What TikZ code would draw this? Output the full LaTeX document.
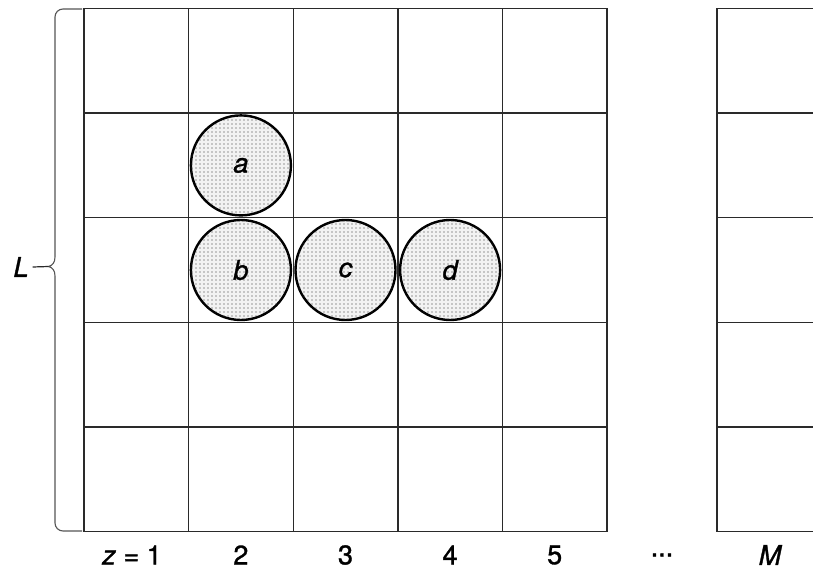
\documentclass[tikz,border=0pt]{standalone}
\usepackage{fontspec}
\setmainfont{TeX Gyre Heros}[FakeBold=1.2,ItalicFeatures={FakeBold=1.2}]
\usetikzlibrary{patterns}
\pgfdeclarepatternformonly{sparsedots}{\pgfqpoint{-1pt}{-1pt}}{\pgfqpoint{1pt}{1pt}}{\pgfqpoint{4pt}{4pt}}{\pgfpathcircle{\pgfqpoint{0pt}{0pt}}{0.6pt}\pgfusepath{fill}}
\definecolor{gridc}{HTML}{2A2A2A}
\tikzset{
  gridline/.style={draw=gridc, line width=1.4pt},
  ball/.style={circle, draw=black, line width=2.4pt, minimum size=100pt, inner sep=0pt,
    fill=gray!10, postaction={pattern=sparsedots, pattern color=black!80},
    font=\fontsize{27}{32}\selectfont\itshape},
  lab/.style={font=\fontsize{27}{32}\selectfont, inner sep=0pt}
}
\begin{document}
\begin{tikzpicture}[x=1pt,y=-1pt]
\useasboundingbox[fill=white] (0,0) rectangle (813,572);
% main grid
\foreach \i in {0,...,5} {
  \draw[gridline] (84+104.6*\i,8.5) -- (84+104.6*\i,531.5);
  \draw[gridline] (84,8.5+104.6*\i) -- (607,8.5+104.6*\i);
}
% right partial grid
\draw[gridline] (717,8.5) -- (717,531.5);
\foreach \i in {0,...,5} {
  \draw[gridline] (717,8.5+104.6*\i) -- (813,8.5+104.6*\i);
}
% balls
\node[ball] (a) at (240.9,165.4) {a};
\node[ball] (b) at (240.9,270) {b};
\node[ball] (c) at (345.5,270) {c};
\node[ball] (d) at (450.1,270) {d};
% brace
\draw[draw=gridc!80, line width=1.1pt] (82,9) -- (63,9) to[out=180,in=90] (55,17) -- (55,257)
  .. controls (55,262.5) and (52.5,265.5) .. (48.5,266.5)
  .. controls (52.5,267.5) and (55,270.5) .. (55,276) -- (55,523) to[out=-90,in=180] (63,531) -- (82,531);
\coordinate (tip) at (48.5,266.5);
\node[lab, font=\fontsize{27}{32}\selectfont\itshape] (L) at (21,267) {L};
\draw[draw=gridc, line width=1.2pt] (L.east) ++(4,0) coordinate (Lend) (Lend) -- (tip);
% axis labels
\node[lab] (z1) at (132,555) {\textit{z} = 1};
\node[lab] (z2) at (240.9,555) {2};
\node[lab] (z3) at (345.5,555) {3};
\node[lab] (z4) at (450.1,555) {4};
\node[lab] (z5) at (554.7,555) {5};
\node[lab] (zd) at (662,555) {...};
\node[lab, font=\fontsize{27}{32}\selectfont\itshape] (zM) at (770,555) {M};
\end{tikzpicture}
\end{document}
